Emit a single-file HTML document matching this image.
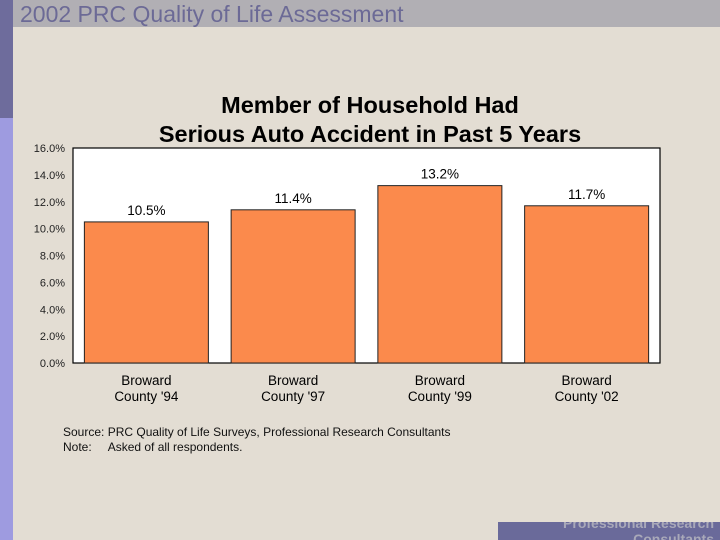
<!DOCTYPE html>
<html><head><meta charset="utf-8"><style>
html,body{margin:0;padding:0;}
body{width:720px;height:540px;position:relative;overflow:hidden;background:#e3ddd3;font-family:"Liberation Sans",sans-serif;}
.abs{position:absolute;}
</style></head><body>
<div class="abs" style="left:0;top:0;width:13px;height:118px;background:#6e6c9c"></div>
<div class="abs" style="left:0;top:118px;width:13px;height:422px;background:#9e9be0"></div>
<div class="abs" style="left:13px;top:0;width:707px;height:27px;background:#b1afb4"></div>
<div class="abs" style="left:20px;top:1px;font-size:23px;color:#6c6a96;white-space:nowrap;transform-origin:0 0;transform:scaleX(1.0)">2002 PRC Quality of Life Assessment</div>
<div class="abs" style="left:70px;width:600px;top:91px;text-align:center;font-size:23.5px;font-weight:bold;line-height:29px;color:#000">Member of Household Had<br>Serious Auto Accident in Past 5 Years</div>
<svg class="abs" style="left:0;top:0" width="720" height="540" id="chart"></svg>
<div class="abs" style="left:63px;top:425px;font-size:12px;line-height:15px;color:#111;white-space:nowrap">Source: PRC Quality of Life Surveys, Professional Research Consultants<br>Note:&nbsp;&nbsp;&nbsp;&nbsp; Asked of all respondents.</div>
<div class="abs" style="left:498px;top:522px;width:222px;height:18px;background:#6a6a9a;overflow:hidden">
<div style="text-align:right;padding-right:6px;font-size:14px;font-weight:bold;color:#a9a9b9;line-height:16px;margin-top:-7px">Professional Research<br>Consultants</div></div>
<script>
const categories=["Broward County '94","Broward County '97","Broward County '99","Broward County '02"];
const values=[10.5,11.4,13.2,11.7];
const ticks=[0,2,4,6,8,10,12,14,16];
const svg=document.getElementById('chart');
const NS='http://www.w3.org/2000/svg';
const L=73,R=660,T=148,B=363,MAX=16;
const y=v=>B-(v/MAX)*(B-T);
const slot=(R-L)/categories.length;
function mk(tag,attrs){const e=document.createElementNS(NS,tag);for(const k in attrs)e.setAttribute(k,attrs[k]);svg.appendChild(e);return e;}
const bg=mk('rect',{x:L,y:T,width:R-L,height:B-T,fill:'#fff',stroke:'#000','stroke-width':1.2});


ticks.forEach(t=>{
  const tx=mk('text',{x:65,y:y(t)+4,'text-anchor':'end','font-size':11,fill:'#222','font-family':'Liberation Sans, sans-serif'});
  tx.textContent=t.toFixed(1)+'%';
  
  
});
categories.forEach((c,i)=>{
  const bw=124,x0=L+i*slot+(slot-bw)/2;
  const r=mk('rect',{x:x0,y:y(values[i]),width:bw,height:B-y(values[i]),fill:'#fb8a4c',stroke:'#222','stroke-width':1});
  
  
  const lb=mk('text',{x:x0+bw/2,y:y(values[i])-7,'text-anchor':'middle','font-size':13.5,fill:'#000','font-family':'Liberation Sans, sans-serif'});
  lb.textContent=values[i].toFixed(1)+'%';
  
  
  const parts=c.split(' ');
  const l1=mk('text',{x:x0+bw/2,y:385,'text-anchor':'middle','font-size':13.5,fill:'#000','font-family':'Liberation Sans, sans-serif'});
  l1.textContent=parts[0];
  
  
  const l2=mk('text',{x:x0+bw/2,y:401,'text-anchor':'middle','font-size':13.5,fill:'#000','font-family':'Liberation Sans, sans-serif'});
  l2.textContent=parts.slice(1).join(' ');
  
  
});
</script>
</body></html>
